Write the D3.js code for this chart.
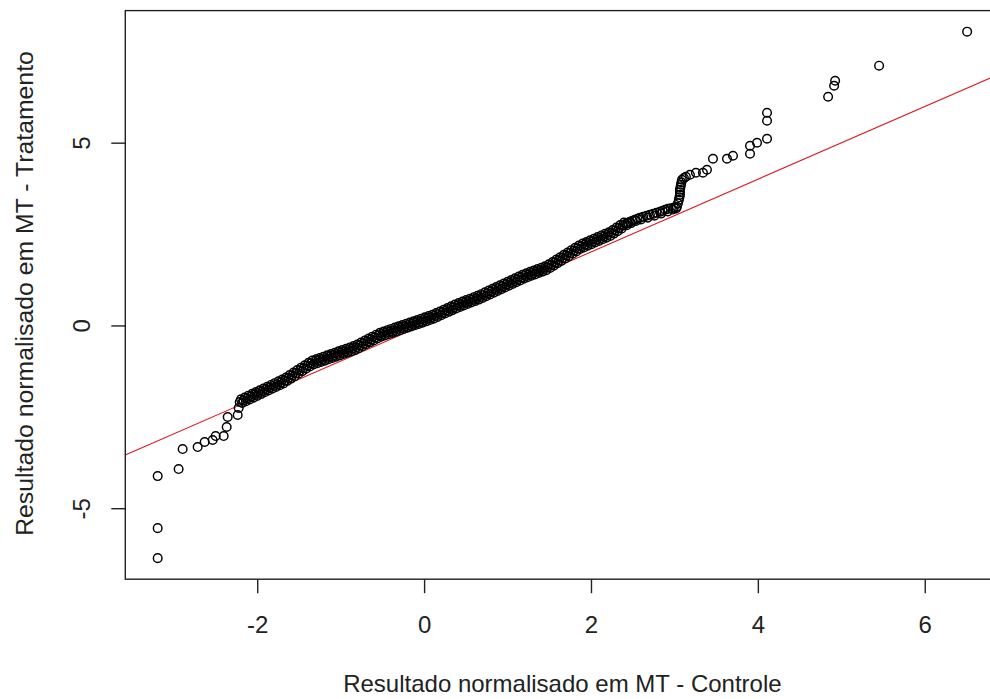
<!DOCTYPE html>
<html><head><meta charset="utf-8">
<script src="https://cdn.jsdelivr.net/npm/d3@7"></script>
<style>html,body{margin:0;padding:0;background:#fff;}svg{display:block}</style>
</head><body>
<script>
// Sample quantiles (Controle on x, Tratamento on y), in plotting order
const controle = [
-3.193,-3.193,-3.193,-2.942,-2.894,-2.714,-2.630,-2.534,-2.498,-2.402,-2.366,-2.354,-2.234,-2.222,
-2.210,-2.195,-2.180,-2.165,-2.150,-2.135,-2.120,-2.105,-2.090,-2.075,
-2.060,-2.045,-2.030,-2.015,-2.000,-1.985,-1.970,-1.955,-1.940,-1.925,
-1.910,-1.895,-1.880,-1.865,-1.850,-1.835,-1.820,-1.805,-1.790,-1.775,
-1.760,-1.745,-1.730,-1.715,-1.700,-1.685,-1.670,-1.655,-1.640,-1.625,
-1.610,-1.595,-1.580,-1.565,-1.550,-1.535,-1.520,-1.505,-1.490,-1.475,
-1.460,-1.445,-1.430,-1.415,-1.400,-1.385,-1.370,-1.355,-1.340,-1.325,
-1.310,-1.295,-1.280,-1.265,-1.250,-1.235,-1.220,-1.205,-1.190,-1.175,
-1.160,-1.145,-1.130,-1.115,-1.100,-1.085,-1.070,-1.055,-1.040,-1.025,
-1.010,-0.995,-0.980,-0.965,-0.950,-0.935,-0.920,-0.905,-0.890,-0.875,
-0.860,-0.845,-0.830,-0.815,-0.800,-0.785,-0.770,-0.755,-0.740,-0.725,
-0.710,-0.695,-0.680,-0.665,-0.650,-0.635,-0.620,-0.605,-0.590,-0.575,
-0.560,-0.545,-0.530,-0.515,-0.500,-0.485,-0.470,-0.455,-0.440,-0.425,
-0.410,-0.395,-0.380,-0.365,-0.350,-0.335,-0.320,-0.305,-0.290,-0.275,
-0.260,-0.245,-0.230,-0.215,-0.200,-0.185,-0.170,-0.155,-0.140,-0.125,
-0.110,-0.095,-0.080,-0.065,-0.050,-0.035,-0.020,-0.005,0.010,0.025,
0.040,0.055,0.070,0.085,0.100,0.115,0.130,0.145,0.160,0.175,
0.190,0.205,0.220,0.235,0.250,0.265,0.280,0.295,0.310,0.325,
0.340,0.355,0.370,0.385,0.400,0.415,0.430,0.445,0.460,0.475,
0.490,0.505,0.520,0.535,0.550,0.565,0.580,0.595,0.610,0.625,
0.640,0.655,0.670,0.685,0.700,0.715,0.730,0.745,0.760,0.775,
0.790,0.805,0.820,0.835,0.850,0.865,0.880,0.895,0.910,0.925,
0.940,0.955,0.970,0.985,1.000,1.015,1.030,1.045,1.060,1.075,
1.090,1.105,1.120,1.135,1.150,1.165,1.180,1.195,1.210,1.225,
1.240,1.255,1.270,1.285,1.300,1.315,1.330,1.345,1.360,1.375,
1.390,1.405,1.420,1.435,1.450,1.465,1.480,1.495,1.510,1.525,
1.540,1.555,1.570,1.585,1.600,1.615,1.630,1.645,1.660,1.675,
1.690,1.705,1.720,1.735,1.750,1.765,1.780,1.795,1.810,1.825,
1.840,1.855,1.870,1.885,1.900,1.915,1.930,1.945,1.960,1.975,
1.990,2.005,2.020,2.035,2.050,2.065,2.080,2.095,2.110,2.125,
2.140,2.155,2.170,2.185,2.200,2.215,2.230,2.245,2.260,2.275,
2.290,2.305,2.320,2.335,2.350,2.365,2.380,2.395,
2.418,2.430,2.442,2.466,2.480,2.496,2.526,2.540,2.556,2.586,2.600,2.626,2.666,2.680,2.706,
2.746,2.760,2.786,2.826,2.840,2.858,2.890,2.920,2.922,2.958,2.980,2.994,3.020,3.030,
3.042,3.054,3.060,3.066,3.066,3.066,3.072,3.078,3.084,3.090,3.114,3.138,3.186,3.258,3.342,3.390,
3.462,3.630,3.702,3.906,3.906,3.990,4.110,4.110,4.110,4.842,4.914,4.926,5.453,6.508
];
const tratamento = [
-6.366,-5.545,-4.121,-3.929,-3.382,-3.327,-3.190,-3.135,-3.026,-3.026,-2.779,-2.505,-2.450,-2.259,
-2.095,-2.019,-2.122,-2.046,-1.970,-2.074,-1.997,-1.921,-2.025,-1.948,
-1.872,-1.976,-1.900,-1.823,-1.927,-1.851,-1.775,-1.878,-1.802,-1.726,
-1.829,-1.753,-1.677,-1.781,-1.704,-1.628,-1.732,-1.655,-1.579,-1.683,
-1.607,-1.530,-1.634,-1.558,-1.481,-1.585,-1.505,-1.423,-1.521,-1.438,
-1.356,-1.454,-1.371,-1.289,-1.387,-1.305,-1.222,-1.320,-1.238,-1.155,
-1.253,-1.171,-1.089,-1.186,-1.104,-1.022,-1.120,-1.037,-0.962,-1.070,
-0.998,-0.926,-1.034,-0.962,-0.890,-0.998,-0.926,-0.854,-0.962,-0.890,
-0.818,-0.926,-0.854,-0.782,-0.890,-0.818,-0.746,-0.854,-0.782,-0.710,
-0.818,-0.746,-0.674,-0.782,-0.710,-0.638,-0.746,-0.674,-0.602,-0.710,
-0.638,-0.566,-0.675,-0.597,-0.520,-0.622,-0.544,-0.466,-0.569,-0.491,
-0.413,-0.515,-0.438,-0.360,-0.462,-0.384,-0.307,-0.409,-0.331,-0.253,
-0.356,-0.278,-0.200,-0.308,-0.237,-0.165,-0.273,-0.202,-0.130,-0.238,
-0.167,-0.095,-0.203,-0.132,-0.060,-0.168,-0.097,-0.025,-0.133,-0.062,
0.010,-0.098,-0.027,0.045,-0.063,0.008,0.080,-0.028,0.043,0.115,
0.007,0.078,0.150,0.042,0.113,0.185,0.077,0.148,0.220,0.112,
0.183,0.255,0.147,0.218,0.290,0.186,0.261,0.337,0.232,0.308,
0.383,0.279,0.354,0.430,0.326,0.401,0.477,0.372,0.448,0.523,
0.419,0.494,0.570,0.464,0.537,0.611,0.504,0.578,0.651,0.545,
0.618,0.692,0.585,0.659,0.732,0.626,0.699,0.773,0.666,0.740,
0.813,0.707,0.780,0.856,0.752,0.828,0.904,0.800,0.876,0.952,
0.848,0.924,1.000,0.896,0.972,1.048,0.944,1.020,1.096,0.992,
1.068,1.144,1.040,1.116,1.192,1.088,1.164,1.240,1.136,1.212,
1.287,1.183,1.259,1.335,1.231,1.307,1.383,1.279,1.355,1.428,
1.320,1.393,1.466,1.358,1.431,1.504,1.397,1.469,1.542,1.435,
1.507,1.580,1.473,1.545,1.618,1.511,1.589,1.671,1.572,1.654,
1.736,1.637,1.719,1.800,1.702,1.783,1.865,1.767,1.848,1.930,
1.831,1.913,1.994,1.896,1.978,2.059,1.961,2.042,2.124,2.025,
2.107,2.188,2.090,2.165,2.240,2.134,2.209,2.284,2.179,2.254,
2.328,2.223,2.298,2.373,2.268,2.342,2.417,2.312,2.387,2.462,
2.356,2.431,2.506,2.401,2.476,2.550,2.445,2.528,2.610,2.513,
2.595,2.678,2.580,2.663,2.745,2.648,2.730,2.813,
2.779,2.740,2.807,2.834,2.800,2.862,2.889,2.860,2.917,2.944,2.900,2.971,2.999,2.950,3.026,
3.053,3.000,3.081,3.108,3.060,3.135,3.163,3.120,3.190,3.208,3.170,3.227,3.200,3.245,
3.340,3.436,3.505,3.573,3.640,3.710,3.780,3.847,3.915,3.984,4.030,4.066,4.121,4.176,4.176,4.258,
4.559,4.559,4.641,4.696,4.915,4.997,5.107,5.600,5.819,6.257,6.558,6.695,7.106,8.037
];
const xTicks = [-2, 0, 2, 4, 6];
const yTicks = [-5, 0, 5];
const refLine = {intercept: 0.02, slope: 0.995};
const xTitle = "Resultado normalisado em MT - Controle";
const yTitle = "Resultado normalisado em MT - Tratamento";

const W = 990, H = 699;
const plot = {left: 125.3, right: 999.5, top: 10.6, bottom: 579.2};
const FONT = "'Liberation Sans', Arial, sans-serif";
const FS = 24;
const fmt = d => String(d);

function pad(ext){ const r = ext[1]-ext[0]; return [ext[0]-0.04*r, ext[1]+0.04*r]; }
const x = d3.scaleLinear().domain(pad(d3.extent(controle))).range([plot.left, plot.right]);
const y = d3.scaleLinear().domain(pad(d3.extent(tratamento))).range([plot.bottom, plot.top]);

const svg = d3.select("body").append("svg").attr("width", W).attr("height", H)
  .style("background", "#fff");

svg.append("defs").append("clipPath").attr("id", "clip")
  .append("rect").attr("x", plot.left).attr("y", plot.top)
  .attr("width", plot.right-plot.left).attr("height", plot.bottom-plot.top);

// reference line
const xd = x.domain();
svg.append("line").attr("clip-path", "url(#clip)")
  .attr("x1", x(xd[0])).attr("y1", y(refLine.intercept + refLine.slope*xd[0]))
  .attr("x2", x(xd[1])).attr("y2", y(refLine.intercept + refLine.slope*xd[1]))
  .attr("stroke", "#dc1a22").attr("stroke-width", 1.1);

// points
const pts = controle.map((c,i) => [c, tratamento[i]]);
svg.append("g").selectAll("circle").data(pts).join("circle")
  .attr("cx", d => x(d[0])).attr("cy", d => y(d[1])).attr("r", 4.3)
  .attr("fill", "none").attr("stroke", "#000").attr("stroke-width", 1.45);

// box
svg.append("rect").attr("x", plot.left).attr("y", plot.top)
  .attr("width", plot.right-plot.left).attr("height", plot.bottom-plot.top)
  .attr("fill", "none").attr("stroke", "#222").attr("stroke-width", 1.4);

// x axis
const gx = svg.append("g").attr("transform", `translate(0,${plot.bottom})`)
  .call(d3.axisBottom(x).tickValues(xTicks).tickSize(14).tickFormat(fmt));
gx.select(".domain").remove();
gx.selectAll("line").attr("stroke", "#222").attr("stroke-width", 1.4);
gx.selectAll("text").attr("font-family", FONT).attr("font-size", FS).attr("fill", "#222")
  .attr("dy", null).attr("y", 633.5 - plot.bottom);

// y axis
const gy = svg.append("g").attr("transform", `translate(${plot.left},0)`)
  .call(d3.axisLeft(y).tickValues(yTicks).tickSize(14).tickFormat(fmt));
gy.select(".domain").remove();
gy.selectAll("line").attr("stroke", "#222").attr("stroke-width", 1.4);
gy.selectAll("text").remove();
gy.selectAll(".tick").append("text")
  .attr("transform", `translate(${90 - plot.left},0) rotate(-90)`)
  .attr("text-anchor", "middle")
  .attr("font-family", FONT).attr("font-size", FS).attr("fill", "#222")
  .text(d => fmt(d));

// titles
svg.append("text").attr("x", (plot.left+plot.right)/2).attr("y", 692)
  .attr("text-anchor", "middle").attr("font-family", FONT).attr("font-size", FS)
  .attr("fill", "#222").text(xTitle);
svg.append("text")
  .attr("transform", `translate(33,293.5) rotate(-90)`)
  .attr("text-anchor", "middle").attr("font-family", FONT).attr("font-size", 24.8)
  .attr("fill", "#222").text(yTitle);
</script>
</body></html>
